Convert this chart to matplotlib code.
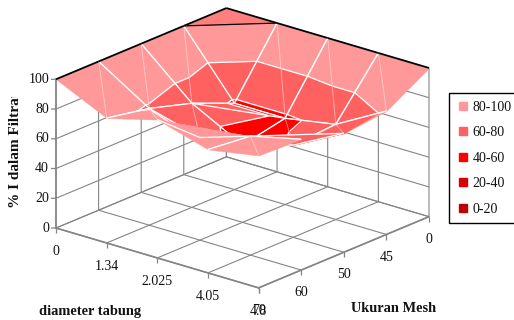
import matplotlib
matplotlib.use("Agg")
import matplotlib.pyplot as plt
from matplotlib.lines import Line2D
from matplotlib.ticker import NullFormatter
from matplotlib.transforms import Bbox
from mpl_toolkits.mplot3d import proj3d
from mpl_toolkits.mplot3d.art3d import Poly3DCollection, Line3DCollection

plt.rcParams['font.family'] = ['Liberation Serif', 'DejaVu Serif']

# ---- data ----
diameter_labels = ['0', '1.34', '2.025', '4.05', '4.8']
mesh_labels = ['0', '45', '50', '60', '70']
z_ticks = [0, 20, 40, 60, 80, 100]
# % I per diameter, listed over the mesh categories
z_d0 = [100, 100, 100, 100, 100]
z_d134 = [100, 58, 70, 78.5, 84]
z_d2025 = [100, 58, 52, 69, 93]
z_d405 = [100, 64, 62, 80, 83]
z_d48 = [100, 83, 80, 88, 89]
Z = [z_d0, z_d134, z_d2025, z_d405, z_d48]

band_labels = ['80-100', '60-80', '40-60', '20-40', '0-20']
band_edges = [(80, 101), (60, 80), (40, 60), (20, 40), (0, 20)]
band_colors = ['#FF9999', '#FF6060', '#FF0000', '#DD0000', '#C00000']
UNDERSIDE = '#FF7F7F'
GREY = '#858585'
INK = '#111111'

# cells folded along the other diagonal, with the style of that fold
anti_cells = {(0, 0): 'black', (1, 1): 'white', (2, 3): None, (3, 2): 'white'}
# triangles seen from below take a darker colour
forced_back = {(0, 0): UNDERSIDE}
forced_front = {(3, 2): band_colors[1]}

fig = plt.figure(figsize=(5.14, 3.2), dpi=100)
ax = fig.add_axes([0, -0.3, 1, 514 / 320], projection='3d', proj_type='ortho',
                  computed_zorder=False)
ax.view_init(elev=20.57, azim=40.06)
ax.set_xlim(0, 4, view_margin=0)
ax.set_ylim(0, 4, view_margin=0)
ax.set_zlim(0, 100, view_margin=0)
ax.set_autoscale_on(False)
ax.patch.set_alpha(0)


def disp(x, y, z):
    ax.apply_aspect()
    xs, ys, _ = proj3d.proj_transform(x, y, z, ax.get_proj())
    return ax.transData.transform((xs, ys))


# fit the box to the target corners (pixels)
zoom = 1.0
ax.set_box_aspect((1, 1, 0.6), zoom=zoom)
for _ in range(3):
    w = disp(0, 4, 0)[0] - disp(4, 0, 0)[0]
    zoom *= 373 / w
    ax.set_box_aspect((1, 1, 0.6), zoom=zoom)
p = disp(4, 0, 0)
pos = ax.get_position(original=True)
dx = (56 - p[0]) / 514
dy = ((320 - 228) - p[1]) / 320
ax.set_position([pos.x0 + dx, pos.y0 + dy, pos.width, pos.height])

# walls, floor and gridlines
ax.set_xticks(range(5))
ax.set_yticks(range(5))
ax.set_zticks(z_ticks)
for a in (ax.xaxis, ax.yaxis, ax.zaxis):
    a.set_major_formatter(NullFormatter())
    a.set_tick_params(label1On=False, label2On=False)
    a.set_pane_color((1, 1, 1, 0))
    a.pane.set_edgecolor(GREY)
    a.pane.set_linewidth(0.9)
    a.line.set_color(GREY)
    a.line.set_linewidth(1.2)
    a._axinfo['tick']['inward_factor'] = 0
    a._axinfo['tick']['outward_factor'] = 0
    a._axinfo['grid'].update(color=GREY, linewidth=0.8, linestyle='-')
ax.grid(True)


def clip(tri, lo, hi):
    def cut(poly, level, keep_above):
        out = []
        for k, a in enumerate(poly):
            b = poly[(k + 1) % len(poly)]
            ina = a[2] >= level if keep_above else a[2] <= level
            inb = b[2] >= level if keep_above else b[2] <= level
            if ina:
                out.append(a)
            if ina != inb:
                t = (level - a[2]) / (b[2] - a[2])
                out.append((a[0] + t * (b[0] - a[0]), a[1] + t * (b[1] - a[1]), level))
        return out
    poly = cut(tri, lo, True)
    return cut(poly, hi, False) if poly else []


def contour(tri, level):
    pts = []
    for k in range(3):
        a, b = tri[k], tri[(k + 1) % 3]
        if (a[2] - level) * (b[2] - level) < 0:
            t = (level - a[2]) / (b[2] - a[2])
            pts.append((a[0] + t * (b[0] - a[0]), a[1] + t * (b[1] - a[1]), level))
    return pts if len(pts) == 2 else None


order = 10


def add_lines(segs, color, lw, alpha=1.0):
    global order
    c = Line3DCollection(segs, colors=color, linewidths=lw, alpha=alpha, zorder=order)
    ax.add_collection3d(c, autolim=False)
    order += 1


def add_tri(tri, forced=None):
    global order
    for (lo, hi), col in zip(band_edges, band_colors):
        poly = clip(tri, lo, hi)
        if len(poly) >= 3:
            c = forced or col
            pc = Poly3DCollection([poly], facecolors=c, edgecolors=c, linewidths=0.25,
                                  zorder=order)
            ax.add_collection3d(pc, autolim=False)
            order += 1
    if forced is None:
        segs = []
        for lev in (20, 40, 60, 80):
            s = contour(tri, lev)
            if s:
                segs.append(s)
        if segs:
            add_lines(segs, 'white', 0.9)


def node(i, j):
    return (j, i, Z[i][j])


cells = sorted(((i, j) for i in range(4) for j in range(4)), key=lambda c: c[0] + c[1])
for i, j in cells:
    a, b, c, d = node(i, j), node(i + 1, j), node(i, j + 1), node(i + 1, j + 1)
    if (i, j) in anti_cells:
        style = anti_cells[(i, j)]
        add_tri([a, b, c], forced_back.get((i, j)))
        add_tri([b, c, d], forced_front.get((i, j)))
        if style:
            add_lines([[b, c]], style, 0.9)
    else:
        add_tri([a, b, d])
        add_tri([a, c, d])
        add_lines([[a, d]], 'white', 0.6, alpha=0.45)
    edges = [[a, b], [a, c]]
    if i < 3:
        edges.append([b, d])
    if j < 3:
        edges.append([c, d])
    add_lines(edges, 'white', 0.9)

# black rim along the two back edges
add_lines([[node(0, j), node(0, j + 1)] for j in range(4)]
          + [[node(i, 0), node(i + 1, 0)] for i in range(4)], 'black', 1.3)

# tick marks and labels
TEXT = 2000
ticks = []
for k in range(5):
    ticks.append([(4, k, 0), (4, k, -3.4)])
    ticks.append([(k, 4, 0), (k, 4, -3.4)])
for z in z_ticks:
    ticks.append([(4, 0, z), (4 + 0.0488, -0.0577, z)])
c = Line3DCollection(ticks, colors=GREY, linewidths=0.9, zorder=TEXT)
ax.add_collection3d(c, autolim=False)

for k, lab in enumerate(diameter_labels):
    ax.text(4, k, -16.0, lab, ha='center', va='center', fontsize=10,
            color=INK, zorder=TEXT)
for k, lab in enumerate(mesh_labels):
    ax.text(k, 4, -15.2, lab, ha='center', va='center', fontsize=10,
            color=INK, zorder=TEXT)
for z in z_ticks:
    ax.text(4 + 0.0683, -0.0808, z, str(z), ha='right', va='center', fontsize=10,
            color=INK, zorder=TEXT)

# axis titles
fig.text(90 / 514, 1 - 312 / 320, 'diameter tabung', ha='center', va='center',
         fontsize=10.4, fontweight='bold', color=INK)
fig.text(394 / 514, 1 - 308 / 320, 'Ukuran Mesh', ha='center', va='center',
         fontsize=10.4, fontweight='bold', color=INK)
t = fig.text(16 / 514, 1 - 208 / 320, '% I dalam Filtrat', rotation=90, ha='center',
             va='bottom', fontsize=11, fontweight='bold', color=INK)
t.set_clip_box(Bbox([[0, 0], [60, 320 - 97]]))
t.set_clip_on(True)

# legend
handles = [Line2D([], [], linestyle='none', marker='s', markersize=6,
                  markerfacecolor=col, markeredgecolor=col) for col in band_colors]
leg = fig.legend(handles, band_labels, loc='upper left',
                 bbox_to_anchor=(449 / 514, 1 - 93 / 320), borderaxespad=0,
                 fontsize=10, frameon=True, fancybox=False, edgecolor='black',
                 framealpha=1, handlelength=0.9, handletextpad=0.25, labelspacing=0.9,
                 borderpad=0.55)
for txt in leg.get_texts():
    txt.set_color(INK)
leg.get_frame().set_linewidth(1.0)

fig.savefig('out.png', dpi=100)
